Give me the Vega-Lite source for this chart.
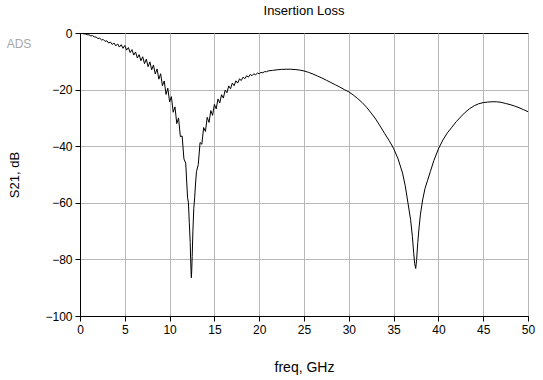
{
  "$schema": "https://vega.github.io/schema/vega-lite/v6.json",
  "autosize": {"type": "none"},
  "padding": {"left": 80, "top": 33, "right": 15, "bottom": 64},
  "width": 448,
  "height": 283,
  "background": "white",
  "title": {"text": "Insertion Loss", "font": "Liberation Sans", "fontSize": 13, "fontWeight": "normal", "color": "#000", "anchor": "middle", "baseline": "bottom", "offset": -4},
  "config": {"view": {"stroke": "#000", "strokeWidth": 1}},
  "datasets": {
    "s21": [
      {"f":0,"s":0},{"f":0.2,"s":-0.07},{"f":0.4,"s":-0.3},{"f":0.6,"s":-0.35},{"f":0.8,"s":-0.6},{"f":1.0,"s":-0.65},
      {"f":1.2,"s":-1.0},{"f":1.4,"s":-0.95},{"f":1.6,"s":-1.35},{"f":1.8,"s":-1.45},{"f":2.0,"s":-1.95},{"f":2.2,"s":-1.85},
      {"f":2.4,"s":-2.45},{"f":2.6,"s":-2.3},{"f":2.8,"s":-2.95},{"f":3.0,"s":-2.75},{"f":3.2,"s":-3.55},{"f":3.4,"s":-3.2},
      {"f":3.6,"s":-4.05},{"f":3.8,"s":-3.55},{"f":4.0,"s":-4.55},{"f":4.2,"s":-3.85},{"f":4.4,"s":-4.97},{"f":4.6,"s":-4.13},
      {"f":4.8,"s":-5.4},{"f":5.0,"s":-4.4},{"f":5.2,"s":-6.05},{"f":5.4,"s":-5.15},{"f":5.6,"s":-6.92},{"f":5.8,"s":-5.88},
      {"f":6.0,"s":-7.8},{"f":6.2,"s":-6.7},{"f":6.4,"s":-8.85},{"f":6.6,"s":-7.65},{"f":6.8,"s":-9.8},{"f":7.0,"s":-8.4},
      {"f":7.2,"s":-10.85},{"f":7.4,"s":-9.25},{"f":7.6,"s":-11.9},{"f":7.8,"s":-10.2},{"f":8.0,"s":-13.0},{"f":8.2,"s":-11.3},
      {"f":8.4,"s":-14.5},{"f":8.6,"s":-12.7},{"f":8.8,"s":-16.3},{"f":9.0,"s":-14.4},{"f":9.2,"s":-18.65},{"f":9.4,"s":-16.95},
      {"f":9.6,"s":-21.7},{"f":9.8,"s":-19.5},{"f":10.0,"s":-24.3},{"f":10.2,"s":-22.5},{"f":10.4,"s":-28.0},{"f":10.6,"s":-26.1},
      {"f":10.8,"s":-32.0},{"f":11.0,"s":-30.0},{"f":11.2,"s":-36.6},{"f":11.4,"s":-36.4},{"f":11.6,"s":-44.5},{"f":11.8,"s":-46},
      {"f":12.0,"s":-58},{"f":12.1,"s":-60},{"f":12.2,"s":-67},{"f":12.3,"s":-74},{"f":12.35,"s":-80},{"f":12.4,"s":-85},
      {"f":12.43,"s":-86.5},{"f":12.47,"s":-84},{"f":12.52,"s":-79},{"f":12.6,"s":-70},{"f":12.7,"s":-62},{"f":12.8,"s":-58},
      {"f":12.9,"s":-53},{"f":13.0,"s":-49},{"f":13.2,"s":-46.5},{"f":13.4,"s":-38.7},{"f":13.6,"s":-39.3},{"f":13.8,"s":-33.4},
      {"f":14.0,"s":-34.8},{"f":14.2,"s":-29.8},{"f":14.4,"s":-31.6},{"f":14.6,"s":-27.4},{"f":14.8,"s":-29.1},{"f":15.0,"s":-25.2},
      {"f":15.2,"s":-26.8},{"f":15.4,"s":-23.3},{"f":15.6,"s":-24.7},{"f":15.8,"s":-21.8},{"f":16.0,"s":-23.0},{"f":16.2,"s":-20.2},
      {"f":16.4,"s":-21.1},{"f":16.6,"s":-18.7},{"f":16.8,"s":-19.7},{"f":17.0,"s":-17.7},{"f":17.2,"s":-18.6},{"f":17.4,"s":-16.9},
      {"f":17.6,"s":-17.7},{"f":17.8,"s":-16.2},{"f":18.0,"s":-16.8},{"f":18.2,"s":-15.6},{"f":18.4,"s":-16.15},{"f":18.6,"s":-15.1},
      {"f":18.8,"s":-15.6},{"f":19.0,"s":-14.65},{"f":19.2,"s":-15.1},{"f":19.4,"s":-14.4},{"f":19.6,"s":-14.75},{"f":19.8,"s":-14.15},
      {"f":20.0,"s":-14.4},{"f":20.2,"s":-13.9},{"f":20.4,"s":-14.05},{"f":20.6,"s":-13.65},{"f":20.8,"s":-13.7},{"f":21.0,"s":-13.4},
      {"f":21.5,"s":-13.2},{"f":22.0,"s":-13.0},{"f":22.5,"s":-12.85},{"f":23.0,"s":-12.8},{"f":23.5,"s":-12.8},{"f":24.0,"s":-12.9},
      {"f":24.5,"s":-13.1},{"f":25.0,"s":-13.4},{"f":25.5,"s":-13.9},{"f":26.0,"s":-14.5},{"f":26.5,"s":-15.2},{"f":27.0,"s":-15.9},
      {"f":27.5,"s":-16.7},{"f":28.0,"s":-17.5},{"f":28.5,"s":-18.3},{"f":29.0,"s":-19.1},{"f":29.5,"s":-20.0},{"f":30.0,"s":-20.8},
      {"f":30.5,"s":-21.9},{"f":31.0,"s":-23.2},{"f":31.5,"s":-24.6},{"f":32.0,"s":-26.3},{"f":32.5,"s":-28.3},{"f":33.0,"s":-30.4},
      {"f":33.5,"s":-32.9},{"f":34.0,"s":-35.5},{"f":34.5,"s":-38.0},{"f":35.0,"s":-40.8},{"f":35.5,"s":-44.5},{"f":36.0,"s":-49.5},
      {"f":36.3,"s":-54},{"f":36.6,"s":-60},{"f":36.9,"s":-66},{"f":37.1,"s":-72},{"f":37.25,"s":-78},{"f":37.35,"s":-81.5},
      {"f":37.47,"s":-83.2},{"f":37.57,"s":-80},{"f":37.7,"s":-74},{"f":37.85,"s":-68.5},{"f":38.0,"s":-64},{"f":38.24,"s":-59},
      {"f":38.5,"s":-55},{"f":38.8,"s":-52},{"f":39.1,"s":-49},{"f":39.5,"s":-45},{"f":40.0,"s":-41},{"f":40.5,"s":-37.8},
      {"f":41.0,"s":-35.3},{"f":41.5,"s":-33.3},{"f":42.0,"s":-31.3},{"f":42.5,"s":-29.6},{"f":43.0,"s":-28},{"f":43.5,"s":-26.7},
      {"f":44.0,"s":-25.7},{"f":44.5,"s":-25},{"f":45.0,"s":-24.6},{"f":45.5,"s":-24.4},{"f":46.0,"s":-24.3},{"f":46.5,"s":-24.3},
      {"f":47.0,"s":-24.5},{"f":47.5,"s":-24.9},{"f":48.0,"s":-25.3},{"f":48.5,"s":-25.8},{"f":49.0,"s":-26.4},{"f":49.5,"s":-27.1},
      {"f":50.0,"s":-27.8}
    ],
    "logo": [{"f": 0, "s": -4, "t": "ADS"}]
  },
  "layer": [
    {
      "data": {"name": "s21"},
      "mark": {"type": "line", "color": "#000", "strokeWidth": 1, "clip": true},
      "encoding": {
        "x": {
          "field": "f", "type": "quantitative",
          "scale": {"domain": [0, 50], "nice": false, "zero": false},
          "axis": {
            "title": "freq, GHz", "values": [0,5,10,15,20,25,30,35,40,45,50],
            "grid": true, "gridColor": "#b8b8b8", "gridWidth": 1, "gridOpacity": 1,
            "domainColor": "#000", "tickColor": "#000", "tickSize": 5,
            "labelFont": "Liberation Sans", "labelFontSize": 12, "labelColor": "#000", "labelPadding": 3,
            "titleFont": "Liberation Sans", "titleFontSize": 14, "titleFontWeight": "normal", "titleColor": "#000", "titlePadding": 25,
            "labelFlush": false, "labelOverlap": false
          }
        },
        "y": {
          "field": "s", "type": "quantitative",
          "scale": {"domain": [-100, 0], "nice": false, "zero": false},
          "axis": {
            "title": "S21, dB", "values": [-100,-90,-80,-70,-60,-50,-40,-30,-20,-10,0],
            "labelExpr": "datum.value % 20 === 0 ? datum.label : ''",
            "grid": true, "gridColor": "#b8b8b8", "gridWidth": 1,
            "gridOpacity": {"condition": {"test": "datum.value % 20 === 0 && datum.value > -100 && datum.value < 0", "value": 1}, "value": 0},
            "domainColor": "#000", "tickColor": "#000", "tickSize": 5,
            "labelFont": "Liberation Sans", "labelFontSize": 12, "labelColor": "#000", "labelPadding": 3,
            "titleFont": "Liberation Sans", "titleFontSize": 13, "titleFontWeight": "normal", "titleColor": "#000", "titlePadding": 23,
            "labelFlush": false, "labelOverlap": false
          }
        }
      }
    },
    {
      "data": {"name": "logo"},
      "mark": {"type": "text", "color": "#a8a8a8", "font": "Liberation Sans", "fontSize": 12, "align": "center", "baseline": "middle", "dx": -61},
      "encoding": {
        "x": {"field": "f", "type": "quantitative"},
        "y": {"field": "s", "type": "quantitative"},
        "text": {"field": "t"}
      }
    }
  ]
}
